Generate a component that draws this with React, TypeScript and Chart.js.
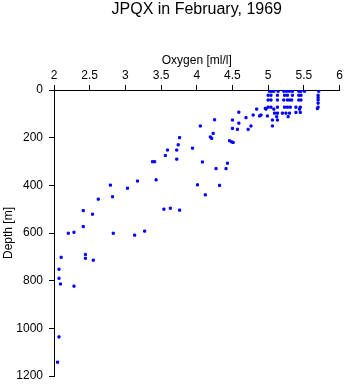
import React, { useEffect, useRef } from "react";
import { Chart, registerables } from "chart.js";

Chart.register(...registerables);

const chartTitle = "JPQX in February, 1969";
const xAxisTitle = "Oxygen [ml/l]";
const yAxisTitle = "Depth [m]";
const xTickValues = [2, 2.5, 3, 3.5, 4, 4.5, 5, 5.5, 6];
const yTickValues = [0, 200, 400, 600, 800, 1000, 1200];

// Near-surface cluster (oxygen ml/l, depth m)
const surfaceOxygen = [
  5.02, 5.05, 5.08, 5.14, 5.22, 5.26, 5.30, 5.34, 5.43, 5.46, 5.51, 5.71,
  5.00, 5.04, 5.13, 5.23, 5.27, 5.34, 5.43, 5.46, 5.70,
  5.00, 5.04, 5.13, 5.22, 5.27, 5.30, 5.33, 5.43, 5.46, 5.70,
  5.70, 5.70,
  5.00, 5.04, 5.13, 5.23, 5.27, 5.31, 5.39, 5.45, 5.70,
  4.97, 5.08, 5.44, 5.69,
  5.09, 5.13, 5.20, 5.25, 5.30, 5.39, 5.45,
  5.12, 5.28,
];
const surfaceDepth = [
  5, 5, 5, 5, 5, 5, 5, 5, 5, 5, 5, 5,
  22, 22, 22, 22, 22, 22, 22, 22, 22,
  42, 42, 42, 42, 42, 42, 42, 42, 42, 42,
  32, 55,
  72, 72, 72, 72, 72, 72, 72, 72, 72,
  80, 80, 80, 78,
  97, 97, 97, 97, 97, 94, 94,
  112, 112,
];

// Upper thermocline points
const midOxygen = [
  4.84, 4.88, 4.90, 4.96, 4.99, 5.06, 5.13, 5.06,
  4.59, 4.69, 4.79, 4.50, 4.50, 4.57, 4.59, 4.72, 4.76,
  4.25, 4.23, 4.19, 4.21, 4.05, 3.94, 4.08, 4.01, 4.12,
  4.27, 4.41, 4.43, 4.32, 4.46, 4.49, 4.51,
];
const midDepth = [
  80, 109, 105, 77, 109, 126, 126, 151,
  93, 116, 105, 126, 161, 165, 139, 165, 151,
  125, 182, 197, 203, 151, 244, 302, 398, 440,
  330, 330, 307, 400, 213, 218, 220,
];

// Deeper points
const deepOxygen = [
  3.76, 3.74, 3.59, 3.72, 3.56, 3.72, 3.38, 3.41, 3.43, 3.17,
  2.79, 3.03, 2.82, 2.62, 2.41, 2.54, 2.41, 3.54, 3.63, 3.76,
  2.20, 2.28, 2.83, 3.13, 3.27, 2.10, 2.44, 2.44, 2.55,
  2.07, 2.07, 2.09, 2.28, 2.07, 2.05,
];
const deepDepth = [
  200, 230, 252, 252, 275, 290, 301, 301, 377, 382,
  399, 412, 448, 458, 506, 521, 573, 500, 496, 504,
  601, 597, 601, 609, 592, 702, 690, 706, 714,
  752, 790, 814, 823, 1036, 1142,
];

const oxygen = [...surfaceOxygen, ...midOxygen, ...deepOxygen];
const depth = [...surfaceDepth, ...midDepth, ...deepDepth];

const FONT = "'Liberation Sans', Arial, Helvetica, sans-serif";

export default function App() {
  const canvasRef = useRef<HTMLCanvasElement | null>(null);

  useEffect(() => {
    const canvas = canvasRef.current;
    if (!canvas) return;
    const chart = new Chart(canvas, {
      type: "scatter",
      data: {
        datasets: [
          {
            label: "Oxygen",
            data: oxygen.map((o, i) => ({ x: o, y: depth[i] })),
            backgroundColor: "#0000ff",
            borderColor: "#0000ff",
            pointStyle: "rect",
            pointRadius: 1.5,
            pointBorderWidth: 1,
            pointHoverRadius: 1.5,
          },
        ],
      },
      options: {
        responsive: false,
        animation: false,
        devicePixelRatio: 1,
        events: [],
        layout: { padding: { left: 0, right: 5.5, top: 0, bottom: 8 } },
        plugins: {
          legend: { display: false },
          tooltip: { enabled: false },
          title: {
            display: true,
            text: chartTitle,
            fullSize: false,
            color: "#000",
            font: { family: FONT, size: 16, weight: "normal", lineHeight: 1.2 },
            padding: { top: 0, bottom: 0 },
          },
        },
        scales: {
          x: {
            type: "linear",
            position: "top",
            min: 2,
            max: 6,
            afterBuildTicks: (scale: any) => {
              scale.ticks = xTickValues.map((v) => ({ value: v }));
            },
            afterFit: (scale: any) => {
              scale.height = 70.8;
            },
            ticks: {
              color: "#000",
              font: { family: FONT, size: 12 },
              padding: 2,
              maxRotation: 0,
              callback: (v: any) => String(v),
            },
            grid: { drawOnChartArea: false, color: "#000", tickLength: 5, lineWidth: 1 },
            border: { color: "#000", width: 1 },
            title: {
              display: true,
              text: xAxisTitle,
              color: "#000",
              font: { family: FONT, size: 12 },
              padding: { top: 34, bottom: 0 },
            },
          },
          y: {
            type: "linear",
            position: "left",
            reverse: true,
            min: 0,
            max: 1200,
            afterBuildTicks: (scale: any) => {
              scale.ticks = yTickValues.map((v) => ({ value: v }));
            },
            afterFit: (scale: any) => {
              scale.width = 54;
              scale.paddingTop = 0;
              scale.paddingBottom = 0;
            },
            ticks: {
              color: "#000",
              font: { family: FONT, size: 12 },
              padding: 6,
              callback: (v: any) => String(v),
            },
            grid: { drawOnChartArea: false, color: "#000", tickLength: 5, lineWidth: 1 },
            border: { color: "#000", width: 1 },
            title: {
              display: true,
              text: yAxisTitle,
              color: "#000",
              font: { family: FONT, size: 12 },
              padding: { top: 1, bottom: 0 },
            },
          },
        },
      },
    });
    return () => chart.destroy();
  }, []);

  return (
    <div style={{ position: "absolute", left: 0, top: 0, width: 345, height: 384, background: "#fff" }}>
      <canvas ref={canvasRef} width={345} height={384} style={{ display: "block", width: 345, height: 384 }} />
    </div>
  );
}
